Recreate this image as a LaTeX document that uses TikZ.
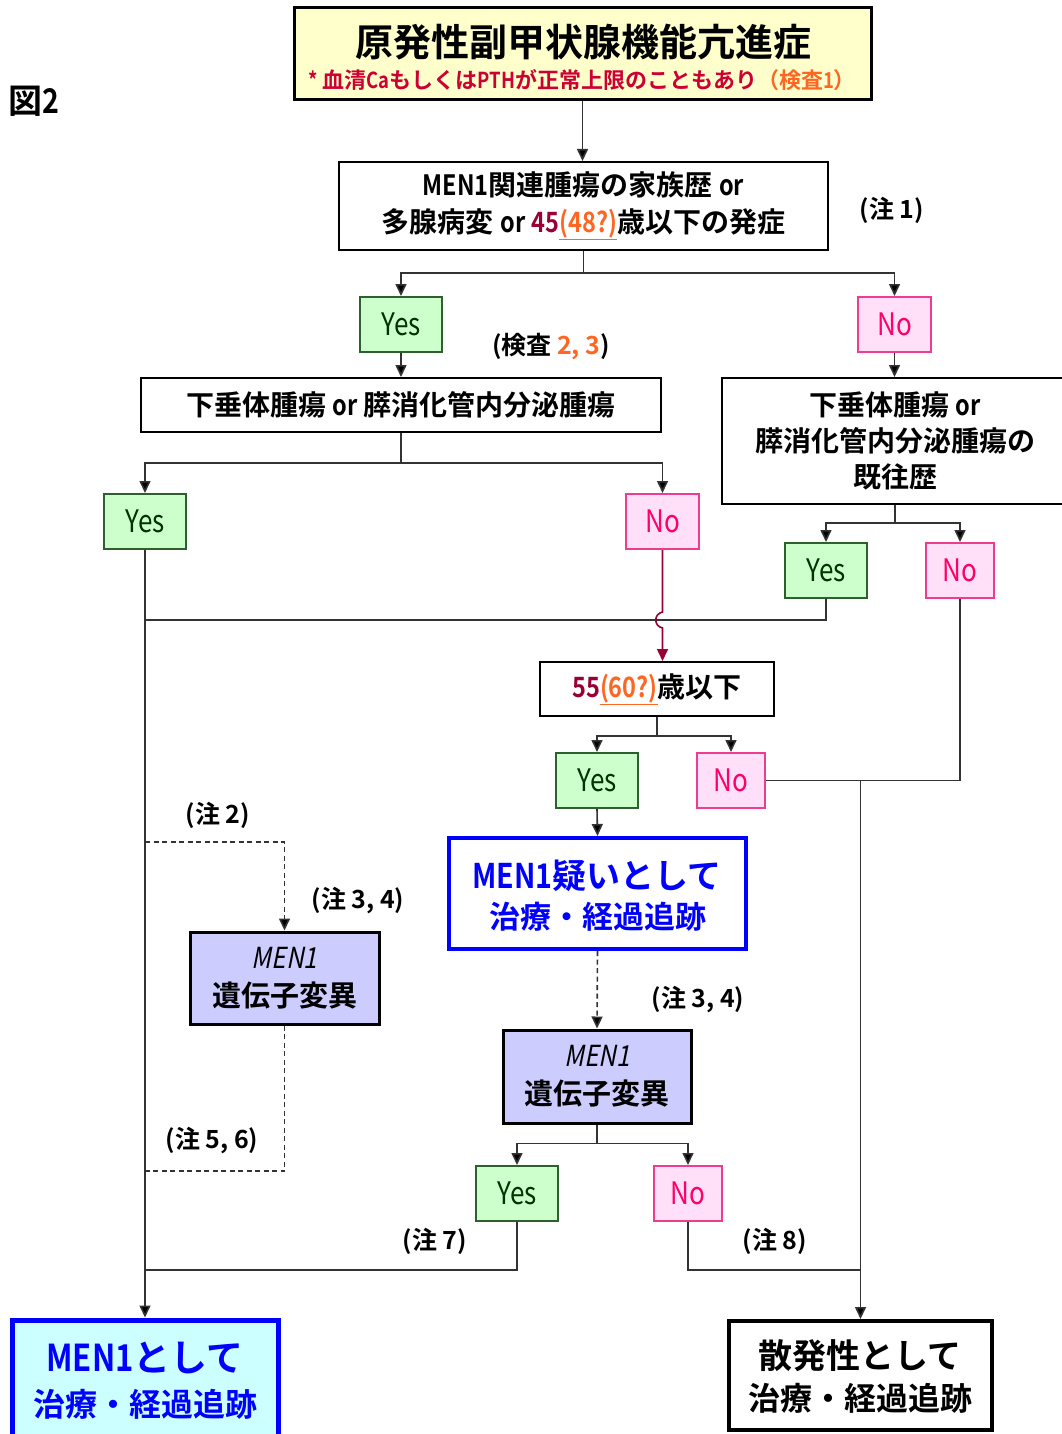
\documentclass[tikz,border=0pt]{standalone}
\usepackage{fontspec}
\setmainfont{Noto Sans CJK JP}[BoldFont={* Bold}]
\newfontfamily\nar{Noto Sans CJK JP}[FakeStretch=0.84,BoldFont={* Bold}]
\newfontfamily\itnar{Noto Sans CJK JP}[FakeStretch=0.84,FakeSlant=0.2,BoldFont={* Bold}]
\newcommand\nr[1]{{\nar #1}}
\usetikzlibrary{arrows.meta,calc}
\definecolor{ttlfill}{HTML}{FFFFCC}
\definecolor{subred}{HTML}{CC0033}
\definecolor{orng}{HTML}{FF6622}
\definecolor{dred}{HTML}{990033}
\definecolor{gfill}{HTML}{CCFFCC}
\definecolor{gdraw}{HTML}{2F5F2F}
\definecolor{gtext}{HTML}{003300}
\definecolor{pfill}{HTML}{FFE0F8}
\definecolor{pdraw}{HTML}{F03C8C}
\definecolor{ptext}{HTML}{FF0066}
\definecolor{lav}{HTML}{CCCCFF}
\definecolor{cyfill}{HTML}{CCFFFF}
\definecolor{mblue}{HTML}{0000FF}
\definecolor{lgray}{HTML}{333333}
\begin{document}
\begin{tikzpicture}[x=1pt,y=-1pt,
  box/.style={draw=black,line width=2pt,fill=white,inner sep=0pt,align=center,text=black},
  yesbox/.style={draw=gdraw,fill=gfill,text=gtext,line width=2pt,minimum width=82pt,minimum height=55pt,inner sep=0pt,font=\fontsize{31}{33}\selectfont\nar},
  nobox/.style={draw=pdraw,fill=pfill,text=ptext,line width=2pt,minimum height=55pt,inner sep=0pt,font=\fontsize{31}{33}\selectfont\nar},
  note/.style={inner sep=0pt,font=\fontsize{25}{27}\selectfont\bfseries},
  ln/.style={draw=lgray,line width=1.6pt},
  arr/.style={ln,-{Triangle[width=11pt,length=12pt,fill=black]}},
  darr/.style={arr,dash pattern=on 5pt off 3.5pt},
  dln/.style={ln,dash pattern=on 5pt off 3.5pt},
  rarr/.style={draw=dred,line width=1.6pt,-{Triangle[width=11pt,length=12pt]}},
  txt/.style={inner sep=0pt}
]
\useasboundingbox (0,0) rectangle (1062,1434);

% title
\node[txt,font=\fontsize{34}{36}\selectfont\bfseries] (fig) at (34,101) {図\nr{2}};
\node[box,fill=ttlfill,line width=3pt,minimum width=577pt,minimum height=92pt] (title) at (582.5,54) {};
\node[txt,font=\fontsize{38}{40}\selectfont\bfseries] (ttlA) at (583,42) {原発性副甲状腺機能亢進症};
\node[txt,font=\fontsize{22}{24}\selectfont\bfseries,text=subred] (ttlB) at (582,80) {\nr{*} 血清\nr{Ca}もしくは\nr{PTH}が正常上限のこともあり\textcolor{orng}{（検査\nr{1}）}};

% question 1
\node[box,minimum width=489pt,minimum height=88pt,font=\fontsize{28}{37}\selectfont\bfseries] (q1) at (583.5,206)
  {\nr{MEN1}関連腫瘍の家族歴 \nr{or}\\多腺病変 \nr{or} \textcolor{dred}{\nr{45}}\textcolor{orng}{\underline{\nr{(48?)}}}歳以下の発症};
\node[note] (n1) at (892,210) {(注 1)};

\node[yesbox] (yes1) at (401,324.5) {Yes};
\node[nobox,minimum width=73pt] (no1) at (894.5,324.5) {No};
\node[note] (k23) at (551,347) {(検査 \textcolor{orng}{2, 3})};

\node[box,minimum width=520pt,minimum height=54pt,font=\fontsize{28}{36}\selectfont\bfseries] (q2) at (401,405) {下垂体腫瘍 \nr{or} 膵消化管内分泌腫瘍};
\node[box,minimum width=346pt,minimum height=126pt,font=\fontsize{28}{36}\selectfont\bfseries] (q3) at (895,441) {下垂体腫瘍 \nr{or}\\膵消化管内分泌腫瘍の\\既往歴};

\node[yesbox] (yes2) at (145,521.5) {Yes};
\node[nobox,minimum width=73pt] (no2) at (662.5,521.5) {No};
\node[yesbox] (yes3) at (826,570.5) {Yes};
\node[nobox,minimum width=68pt] (no3) at (960,570.5) {No};

\node[box,minimum width=234pt,minimum height=54pt,font=\fontsize{28}{36}\selectfont\bfseries] (q4) at (657,689)
  {\textcolor{dred}{\nr{55}}\textcolor{orng}{\underline{\nr{(60?)}}}歳以下};

\node[yesbox] (yes4) at (597,780.5) {Yes};
\node[nobox,minimum width=68pt] (no4) at (731,780.5) {No};

\node[box,draw=mblue,line width=4pt,minimum width=297pt,minimum height=111pt] (susp) at (597.5,893.5) {};
\node[txt,text=mblue,font=\fontsize{34}{36}\selectfont\bfseries] (suspA) at (597,876) {\nr{MEN1}疑いとして};
\node[txt,text=mblue,font=\fontsize{31}{33}\selectfont\bfseries] (suspB) at (598,917) {治療・経過追跡};

\node[box,fill=lav,line width=3pt,minimum width=188pt,minimum height=93pt,font=\fontsize{29}{38}\selectfont\bfseries] (gene2) at (597,1076.5)
  {{\itnar\mdseries MEN1}\\遺伝子変異};
\node[note] (n34b) at (698,1000) {(注 3, 4)};

\node[yesbox] (yes5) at (517,1193.5) {Yes};
\node[nobox,minimum width=68pt] (no5) at (688,1193.5) {No};
\node[note] (n7) at (435,1241) {(注 7)};
\node[note] (n8) at (775,1241) {(注 8)};

\node[box,fill=lav,line width=3pt,minimum width=189pt,minimum height=92pt,font=\fontsize{29}{38}\selectfont\bfseries] (gene1) at (284.5,978)
  {{\itnar\mdseries MEN1}\\遺伝子変異};
\node[note] (n2) at (218,815) {(注 2)};
\node[note] (n34a) at (358,901) {(注 3, 4)};
\node[note] (n56) at (212,1141) {(注 5, 6)};

\node[box,fill=cyfill,draw=mblue,line width=5pt,minimum width=266pt,minimum height=118pt] (fin1) at (145,1379) {};
\node[txt,text=mblue,font=\fontsize{37}{39}\selectfont\bfseries] (fin1A) at (145,1358) {\nr{MEN1}として};
\node[txt,text=mblue,font=\fontsize{32}{34}\selectfont\bfseries] (fin1B) at (145,1404) {治療・経過追跡};

\node[box,line width=4pt,minimum width=263pt,minimum height=109pt] (fin2) at (860.5,1375.5) {};
\node[txt,font=\fontsize{34}{36}\selectfont\bfseries] (fin2A) at (860,1356) {散発性として};
\node[txt,font=\fontsize{32}{34}\selectfont\bfseries] (fin2B) at (860,1398) {治療・経過追跡};

% connectors
\draw[arr] (title.south) -- (title.south |- q1.north);
\draw[arr] (q1.south) -- ++(0,22) -| (yes1.north);
\draw[arr] (q1.south) -- ++(0,22) -| (no1.north);
\draw[arr] (yes1.south) -- (yes1.south |- q2.north);
\draw[arr] (no1.south) -- (no1.south |- q3.north);
\draw[arr] (q2.south) -- ++(0,30) -| (yes2.north);
\draw[arr] (q2.south) -- ++(0,30) -| (no2.north);
\draw[arr] (q3.south) -- ++(0,18) -| (yes3.north);
\draw[arr] (q3.south) -- ++(0,18) -| (no3.north);

\coordinate (c620) at (145,620);
\coordinate (hopA) at (662.5,612);
\coordinate (hopB) at (662.5,628);
\draw[ln] (yes3.south) |- (c620);
\draw[rarr] (no2.south) -- (hopA) .. controls +(-9,2) and +(-9,-2) .. (hopB) -- (no2.south |- q4.north);

\draw[arr] (yes2.south) -- (fin1.north);

\draw[arr] (q4.south) -- ++(0,19) -| (yes4.north);
\draw[arr] (q4.south) -- ++(0,19) -| (no4.north);
\draw[ln] (no3.south) |- (no4.east);
\draw[arr] (no4.east -| fin2.north) -- (fin2.north);

\draw[arr] (yes4.south) -- (susp.north);
\draw[darr] (susp.south) -- (gene2.north);
\draw[arr] (gene2.south) -- ++(0,19) -| (yes5.north);
\draw[arr] (gene2.south) -- ++(0,19) -| (no5.north);

\coordinate (c1270L) at (145,1270);
\coordinate (c1270R) at (860,1270);
\draw[ln] (yes5.south) |- (c1270L);
\draw[ln] (no5.south) |- (c1270R);

\coordinate (c842) at (145,842);
\coordinate (c1171) at (145,1171);
\draw[darr] (c842) -| (gene1.north);
\draw[dln] (gene1.south) |- (c1171);
\end{tikzpicture}
\end{document}
